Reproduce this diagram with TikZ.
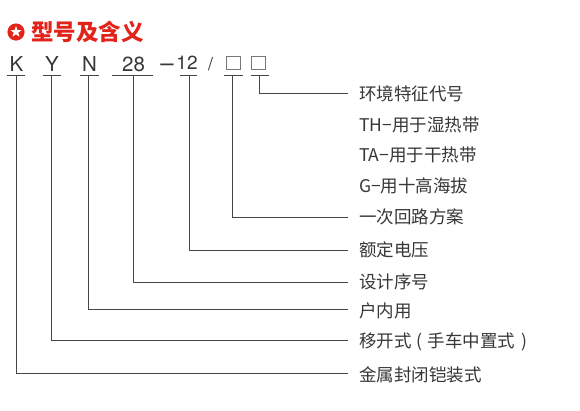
\documentclass[tikz,border=0pt]{standalone}
\usepackage{fontspec}
\setmainfont{Noto Sans CJK SC}
\newfontfamily\cjk{Noto Sans CJK SC}
\newfontfamily\codefont{TeX Gyre Heros}
\definecolor{titlered}{RGB}{226,35,26}
\definecolor{txt}{RGB}{55,55,55}
\definecolor{ln}{RGB}{70,70,70}
\definecolor{boxc}{RGB}{120,120,120}
\tikzset{
  code/.style={inner sep=0pt, text=txt, font=\codefont\fontsize{20.5}{22}\selectfont, anchor=base},
  lab/.style={inner sep=0pt, anchor=west, text=txt, font=\cjk\fontsize{17.5}{20}\selectfont},
  uline/.style={draw=ln, line width=0.9pt},
  conn/.style={draw=ln, line width=0.9pt},
  sq/.style={draw=boxc, line width=0.9pt, minimum width=14pt, minimum height=13pt, inner sep=0pt}
}
\begin{document}
\begin{tikzpicture}[x=1pt,y=-1pt]
\useasboundingbox[fill=white] (0,0) rectangle (580,410);
% title
\fill[titlered] (16,32) circle (8.6);
\fill[white] (16,26.0) -- (17.4,30.0) -- (21.6,30.1) -- (18.3,32.6) -- (19.5,36.7) -- (16,34.3) -- (12.5,36.7) -- (13.7,32.6) -- (10.4,30.1) -- (14.6,30.0) -- cycle;
\node[inner sep=0pt, anchor=west, text=titlered, font=\cjk\bfseries\fontsize{22.5}{24}\selectfont] (title) at (31,32) {型号及含义};
% code letters
\node[code] (K) at (16.5,71) {K};
\node[code] (Y) at (52,71) {Y};
\node[code] (N) at (89.5,71) {N};
\node[code] (n28) at (133.5,71) {28};
\node[code] (dash) at (167,71) {\fontsize{24}{24}\selectfont –};
\node[code] (n12) at (187,69.5) {\fontsize{19}{20}\selectfont 12};
\node[code] (sl) at (210.5,70) {\fontsize{18}{20}\selectfont /};
\node[sq] (b1) at (233.5,62.5) {};
\node[sq] (b2) at (258.5,62.5) {};
% underlines
\coordinate (uK) at (16,75); \draw[uline] (7,75) -- (25,75);
\coordinate (uY) at (51,75); \draw[uline] (43,75) -- (61,75);
\coordinate (uN) at (88,75); \draw[uline] (80,75) -- (99,75);
\coordinate (u28) at (133,75); \draw[uline] (112,75) -- (153,75);
\coordinate (u12) at (189,75); \draw[uline] (180,75) -- (197,75);
\coordinate (ub1) at (232,75); \draw[uline] (224,75) -- (243,75);
\coordinate (ub2) at (259,75); \draw[uline] (251,75) -- (269,75);
% labels
\node[lab] (l1) at (359,94) {环境特征代号};
\node[lab] (l2) at (359,124.5) {TH−用于湿热带};
\node[lab] (l3) at (359,155) {TA−用于干热带};
\node[lab] (l4) at (359,185.5) {G−用十高海拔};
\node[lab] (l5) at (359,217) {一次回路方案};
\node[lab] (l6) at (359,250) {额定电压};
\node[lab] (l7) at (359,282) {设计序号};
\node[lab] (l8) at (359,310.5) {户内用};
\node[lab] (l9) at (359,342) {移开式\hspace{5pt}(\hspace{5pt}手车中置式\hspace{6pt})};
\node[lab] (l10) at (359,374.5) {金属封闭铠装式};
% connectors
\draw[conn] (ub2) |- ([xshift=-11pt]l1.west |- 0,93);
\draw[conn] (ub1) |- ([xshift=-11pt]l5.west |- 0,217);
\draw[conn] (u12) |- ([xshift=-11pt]l6.west |- 0,250);
\draw[conn] (u28) |- ([xshift=-11pt]l7.west |- 0,282);
\draw[conn] (uN) |- ([xshift=-11pt]l8.west |- 0,309);
\draw[conn] (uY) |- ([xshift=-11pt]l9.west |- 0,340);
\draw[conn] (uK) |- ([xshift=-11pt]l10.west |- 0,373);
\end{tikzpicture}
\end{document}
